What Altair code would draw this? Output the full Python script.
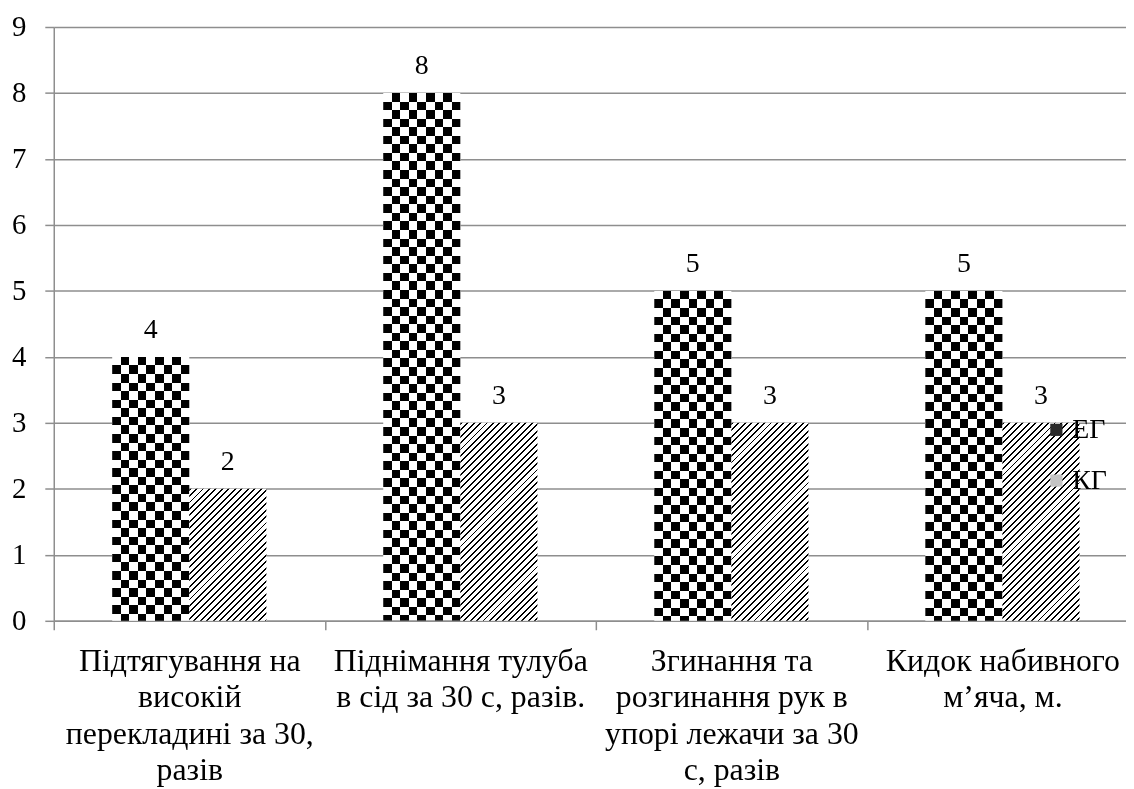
import math
import altair as alt
import pandas as pd

# ---- data ----
categories = [
    "Підтягування на\nвисокій\nперекладині за 30,\nразів",
    "Піднімання тулуба\nв сід за 30 с, разів.",
    "Згинання та\nрозгинання  рук в\nупорі лежачи за 30\nс, разів",
    "Кидок набивного\nм’яча, м.",
]
groups = ["ЕГ", "КГ"]
eg_values = [4, 8, 5, 5]
kg_values = [2, 3, 3, 3]
y_ticks = list(range(0, 10))

rows = []
for i, (c, a, b) in enumerate(zip(categories, eg_values, kg_values)):
    rows.append({"i": 2 * i, "cat": c, "g": groups[0], "v": a})
    rows.append({"i": 2 * i + 1, "cat": c, "g": groups[1], "v": b})
df = pd.DataFrame(rows)

# ---- layout / style constants ----
FONT = "Liberation Serif"
FS = 28
FS_CAT = 32
GRID = "#8e8e8e"
CLEAR = "rgba(0,0,0,0)"
H = 597
W = 1078
RANGE_W = 1090
n_cat = len(categories)
step = RANGE_W / n_cat
bar_w = 77.5
OFF_PAD = (step / bar_w - 2) / 2
CHUNK = 40


def hard_stops(segments):
    stops = []
    for s, e, col in segments:
        s = max(0.0, min(1.0, s))
        e = max(0.0, min(1.0, e))
        if e <= s:
            continue
        stops.append({"offset": round(s, 5), "color": col})
        stops.append({"offset": round(e, 5), "color": col})
    return stops


def chunked(segments, geom):
    """split a long striped gradient into several gradients with few stops each"""
    out = []
    for a in range(0, len(segments), CHUNK):
        part = segments[a:a + CHUNK]
        segs = []
        if part[0][0] > 0:
            segs.append((0.0, part[0][0], CLEAR))
        segs.extend(part)
        if part[-1][1] < 1:
            segs.append((part[-1][1], 1.0, CLEAR))
        g = {"gradient": "linear", "stops": hard_stops(segs)}
        g.update(geom)
        out.append(g)
    return out


def checker_cols():
    n = 9
    segs = [(k / n, (k + 1) / n, "#ffffff" if k % 2 == 0 else "#000000") for k in range(n)]
    return {"gradient": "linear", "x1": 0, "y1": 0, "x2": 1, "y2": 0, "stops": hard_stops(segs)}


def checker_rows(v):
    h = v * H / 9
    s = bar_w / 9
    n = math.ceil(h / s)
    segs = [(j * s / h, (j + 1) * s / h, "#ffffff" if j % 2 == 1 else CLEAR) for j in range(n)]
    return chunked(segs, {"x1": 0, "y1": 0, "x2": 0, "y2": 1})


def hatch(v):
    w = bar_w
    h = v * H / 9
    t = (w + h) / (w * w + h * h)
    n = (w + h) / 6.5
    frac = 0.3
    segs = []
    k = 0
    while k / n < 1:
        segs.append((k / n, (k + frac) / n, "#000000"))
        segs.append(((k + frac) / n, (k + 1) / n, CLEAR))
        k += 1
    return chunked(segs, {"x1": 0, "y1": 0, "x2": w * t, "y2": h * t})


x_enc = alt.X(
    "cat:N",
    sort=categories,
    scale=alt.Scale(range=[0, RANGE_W], paddingInner=0, paddingOuter=0),
    axis=alt.Axis(
        title=None,
        labelAngle=0,
        labelExpr="split(datum.label, '\\n')",
        labelFont=FONT,
        labelFontSize=FS_CAT,
        labelColor="black",
        labelLineHeight=36.5,
        labelBaseline="top",
        labelPadding=16,
        labelLimit=500,
        labelOverlap=False,
        labelBound=False,
        tickBand="extent",
        ticks=True,
        tickSize=9,
        tickColor=GRID,
        tickWidth=1.5,
        domainColor=GRID,
        domainWidth=1.5,
        grid=False,
    ),
)
xo_enc = alt.XOffset(
    "g:N", sort=groups, scale=alt.Scale(domain=groups, paddingInner=0, paddingOuter=OFF_PAD)
)
y_enc = alt.Y(
    "v:Q",
    scale=alt.Scale(domain=[0, 9], nice=False),
    axis=alt.Axis(
        title=None,
        values=y_ticks,
        labelFont=FONT,
        labelFontSize=29,
        labelColor="black",
        labelPadding=19,
        tickSize=9,
        tickColor=GRID,
        tickWidth=1.5,
        domainColor=GRID,
        domainWidth=1.5,
        grid=True,
        gridColor=GRID,
        gridWidth=1.5,
    ),
)

base = alt.Chart(df).encode(x=x_enc, xOffset=xo_enc, y=y_enc)

layers = []
for _, r in df.iterrows():
    sel = base.transform_filter(alt.datum.i == int(r["i"]))
    if r["g"] == groups[0]:
        layers.append(sel.mark_bar(fill=checker_cols(), strokeWidth=0))
        for g in checker_rows(r["v"]):
            layers.append(sel.mark_bar(fill=g, strokeWidth=0, blend="difference"))
    else:
        layers.append(sel.mark_bar(fill="#ffffff", strokeWidth=0))
        for g in hatch(r["v"]):
            layers.append(sel.mark_bar(fill=g, strokeWidth=0))

labels = base.mark_text(dy=-19, baseline="alphabetic", font=FONT, fontSize=FS, color="black").encode(
    text="v:Q"
)

legend_layer = alt.Chart(df).mark_point(shape="square", filled=True, opacity=0).encode(
    x=x_enc,
    y=y_enc,
    color=alt.Color(
        "g:N",
        scale=alt.Scale(domain=groups, range=["#2a2a2a", "#c4c4c4"]),
        legend=alt.Legend(
            title=None,
            orient="none",
            legendX=994,
            legendY=391,
            symbolType="square",
            symbolSize=150,
            symbolOpacity=1,
            symbolStrokeWidth=0,
            labelFont=FONT,
            labelFontSize=FS,
            labelColor="black",
            labelOffset=2,
            rowPadding=23,
            padding=0,
        ),
    ),
)

chart = (
    alt.layer(*layers, labels, legend_layer)
    .properties(
        width=W,
        height=H,
        padding={"left": 46, "top": 17, "right": 0, "bottom": 167},
        autosize=alt.AutoSizeParams(type="none"),
    )
    .configure_view(stroke=None)
)

chart.save("out.html", embed_options={"renderer": "svg", "actions": False})
